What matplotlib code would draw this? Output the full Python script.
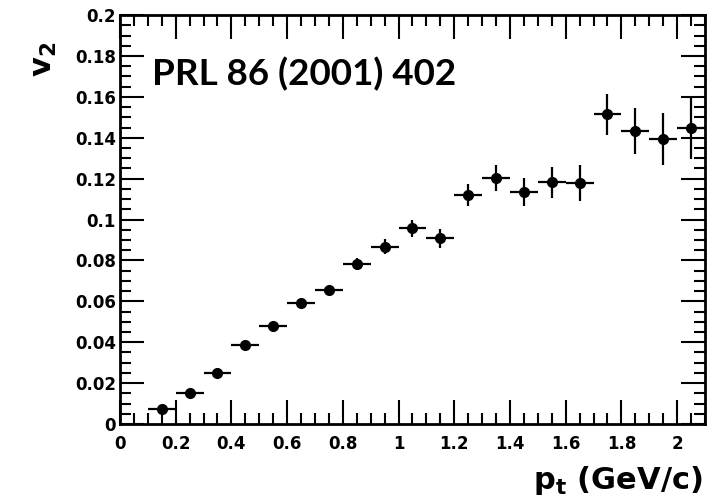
import matplotlib.pyplot as plt
from matplotlib.ticker import MultipleLocator, FormatStrFormatter

plt.rcParams['font.family'] = 'DejaVu Sans'
plt.rcParams['font.weight'] = 'bold'
plt.rcParams['mathtext.fontset'] = 'custom'
plt.rcParams['mathtext.rm'] = 'DejaVu Sans:bold'
plt.rcParams['mathtext.it'] = 'DejaVu Sans:bold'
plt.rcParams['mathtext.bf'] = 'DejaVu Sans:bold'

# v2 vs pt
pt = [0.15, 0.25, 0.35, 0.45, 0.55, 0.65, 0.75, 0.85, 0.95, 1.05,
      1.15, 1.25, 1.35, 1.45, 1.55, 1.65, 1.75, 1.85, 1.95, 2.05]
v2 = [0.0072, 0.0150, 0.0251, 0.0385, 0.0479, 0.0593, 0.0655, 0.0782, 0.0867, 0.0957,
      0.0908, 0.1120, 0.1204, 0.1136, 0.1182, 0.1177, 0.1514, 0.1433, 0.1394, 0.1446]
v2_err = [0.0008, 0.0010, 0.0012, 0.0015, 0.0018, 0.0020, 0.0025, 0.0030, 0.0036, 0.0040,
          0.0047, 0.0053, 0.0063, 0.0068, 0.0077, 0.0088, 0.0098, 0.0114, 0.0129, 0.0150]
pt_err = [0.05] * len(pt)

fig = plt.figure(figsize=(7.19, 5.03), dpi=100)
ax = fig.add_axes([0.1669, 0.157, 0.8136, 0.813])

ax.errorbar(pt, v2, xerr=pt_err, yerr=v2_err, fmt='o', color='black',
            markersize=7, elinewidth=1.6, capsize=0)

ax.set_xlim(0, 2.1)
ax.set_ylim(0, 0.2)
ax.xaxis.set_major_locator(MultipleLocator(0.2))
ax.xaxis.set_minor_locator(MultipleLocator(0.05))
ax.yaxis.set_major_locator(MultipleLocator(0.02))
ax.yaxis.set_minor_locator(MultipleLocator(0.005))
ax.xaxis.set_major_formatter(FormatStrFormatter('%g'))
ax.yaxis.set_major_formatter(FormatStrFormatter('%g'))
ax.tick_params(which='both', direction='in', top=True, right=True, width=1.5)
ax.tick_params(which='major', length=17, labelsize=12, pad=3)
ax.tick_params(which='minor', length=8)
ax.tick_params(axis='x', pad=8)
for s in ax.spines.values():
    s.set_linewidth(2)

ax.text(0.054, 0.828, 'PRL 86 (2001) 402', transform=ax.transAxes,
        family='Lato', fontweight='bold', fontsize=26.5, va='baseline')

fig.text(0.062, 0.883, r'v$_\mathrm{2}$', rotation=90, ha='center', va='center', fontsize=22)
fig.text(0.977, 0.012, r'p$_\mathrm{t}$ (GeV/c)', ha='right', va='bottom', fontsize=22)

fig.savefig('out.png', dpi=100)
